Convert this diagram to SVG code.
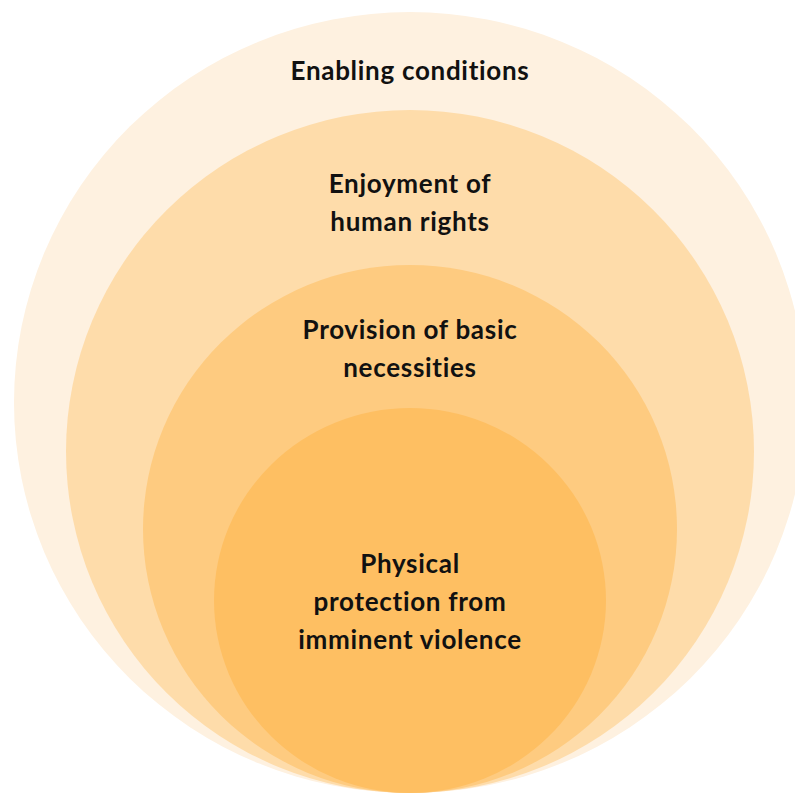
<svg xmlns="http://www.w3.org/2000/svg" width="795" height="794" viewBox="0 0 795 794">
  <style>
    .lbl { font-family: Lato, "Open Sans", "Liberation Sans", sans-serif; font-weight: bold; font-size: 26px; letter-spacing: 0.7px; fill: #111111; text-anchor: middle; }
  </style>
  <rect width="795" height="794" fill="#ffffff"/>

  <!-- Nested layers, all resting on the same bottom point -->
  <g id="enabling-conditions">
    <ellipse cx="410" cy="402.5" rx="396" ry="390.5" fill="#fef1e0"/>
    <text class="lbl" x="410" y="80">Enabling conditions</text>
  </g>

  <g id="human-rights">
    <ellipse cx="410" cy="451.5" rx="344" ry="341.5" fill="#fedcaa"/>
    <text class="lbl" x="410" y="193">Enjoyment of</text>
    <text class="lbl" x="410" y="231">human rights</text>
  </g>

  <g id="basic-necessities">
    <ellipse cx="410" cy="529" rx="267" ry="264" fill="#fecb80"/>
    <text class="lbl" x="410" y="339">Provision of basic</text>
    <text class="lbl" x="410" y="377">necessities</text>
  </g>

  <g id="physical-protection">
    <ellipse cx="410" cy="600.5" rx="196" ry="192.5" fill="#febf62"/>
    <text class="lbl" x="410" y="573">Physical</text>
    <text class="lbl" x="410" y="611">protection from</text>
    <text class="lbl" x="410" y="649">imminent violence</text>
  </g>

  <g id="connectors"/>
</svg>
